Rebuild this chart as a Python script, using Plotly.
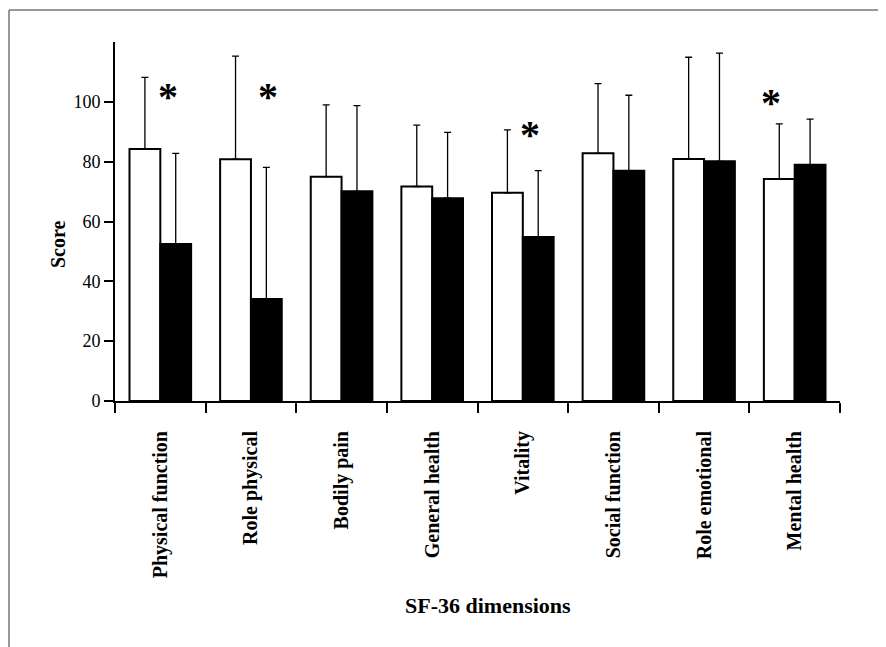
import plotly.graph_objects as go

categories = ["Physical function", "Role physical", "Bodily pain", "General health",
              "Vitality", "Social function", "Role emotional", "Mental health"]
white_mean = [84.2, 80.8, 75.0, 71.7, 69.6, 82.8, 80.9, 74.2]
white_sd = [24.0, 34.5, 24.0, 20.5, 21.0, 23.3, 34.0, 18.4]
black_mean = [52.5, 34.1, 70.1, 67.8, 54.8, 77.0, 80.1, 79.0]
black_sd = [30.3, 44.0, 28.6, 22.0, 22.2, 25.2, 36.2, 15.2]

# significance markers: (category, y value, x shift in px)
sig_cats = ["Physical function", "Role physical", "Vitality", "Mental health"]
sig_y = [101.7, 101.7, 89.2, 99.8]
sig_shift = [8, 17, 7, -24]

font_family = "Liberation Serif, Times New Roman, serif"

# figure is placed at (8, 8) in page; plot area: x 107..832, y 34..393 (figure coords)
W, H = 878, 639
L, T, R, B = 107, 34, 46, 246
PW, PH = W - L - R, H - T - B

def px(xf):
    return (xf - L) / PW

def py(yf):
    return (H - B - yf) / PH

fig = go.Figure()
fig.add_trace(go.Bar(
    x=categories, y=white_mean, name="A",
    marker=dict(color="white", line=dict(color="black", width=2)),
    error_y=dict(type="data", array=white_sd, arrayminus=[0]*8, symmetric=False,
                 color="black", thickness=1.3, width=3.5),
))
fig.add_trace(go.Bar(
    x=categories, y=black_mean, name="B",
    marker=dict(color="black", line=dict(color="black", width=2)),
    error_y=dict(type="data", array=black_sd, arrayminus=[0]*8, symmetric=False,
                 color="black", thickness=1.3, width=3.5),
))

for c, yv, sh in zip(sig_cats, sig_y, sig_shift):
    fig.add_annotation(x=c, y=yv, xref="x", yref="y", text="<b>*</b>", showarrow=False,
                       xshift=sh, font=dict(family=font_family, size=40, color="black"))

fig.add_annotation(text="<b>Score</b>", xref="paper", yref="paper", x=px(37), y=py(236),
                   textangle=-90, showarrow=False,
                   font=dict(family=font_family, size=20, color="black"))
fig.add_annotation(text="<b>SF-36 dimensions</b>", xref="paper", yref="paper", x=px(480), y=py(612),
                   showarrow=False, font=dict(family=font_family, size=22, color="black"))

# outer frame (top and left visible)
fig.add_shape(type="line", xref="paper", yref="paper", x0=px(1), x1=px(W + 10),
              y0=py(2), y1=py(2), line=dict(color="#777", width=1.5))
fig.add_shape(type="line", xref="paper", yref="paper", x0=px(1), x1=px(1),
              y0=py(2), y1=py(H + 10), line=dict(color="#777", width=1.5))

fig.update_layout(
    width=W, height=H,
    margin=dict(l=L, r=R, t=T, b=B),
    paper_bgcolor="white", plot_bgcolor="white",
    barmode="group", bargap=0.32, bargroupgap=0,
    showlegend=False,
    font=dict(family=font_family, color="black"),
)
fig.update_xaxes(
    showline=True, linecolor="black", linewidth=2,
    ticks="outside", tickson="boundaries", ticklen=10, tickcolor="black", tickwidth=1.5,
    tickangle=-90, tickfont=dict(family=font_family, size=20),
    ticklabelstandoff=20,
    tickprefix="<b>", ticksuffix="</b>",
    showgrid=False, zeroline=False,
)
fig.update_yaxes(
    range=[0, 120], tickvals=[0, 20, 40, 60, 80, 100],
    showline=True, linecolor="black", linewidth=2,
    ticks="outside", ticklen=9, tickcolor="black", tickwidth=1.5,
    tickfont=dict(family=font_family, size=18),
    showgrid=False, zeroline=False,
)

fig.write_html("out.html")
